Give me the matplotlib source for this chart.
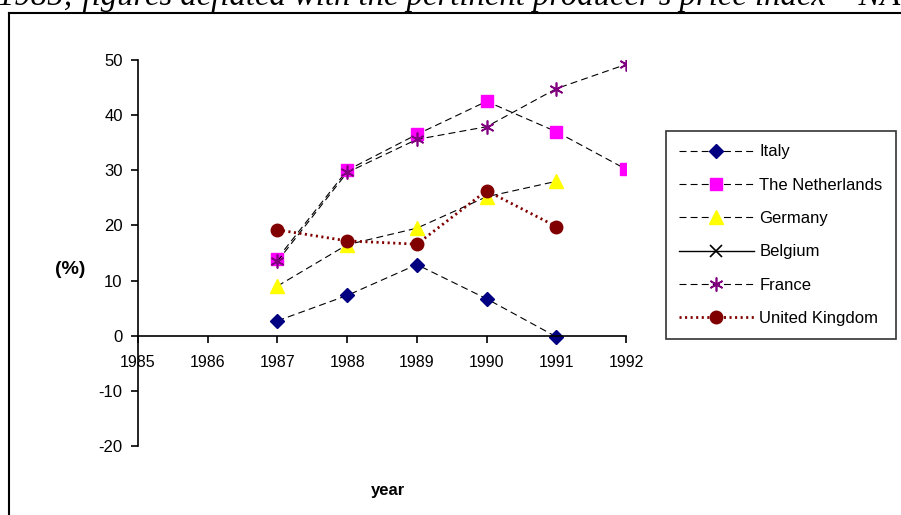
import numpy as np
import matplotlib
matplotlib.use('Agg')
import matplotlib.pyplot as plt
from matplotlib.lines import Line2D

plt.rcParams['font.family'] = ['Liberation Sans', 'DejaVu Sans']
plt.rcParams['lines.scale_dashes'] = False
plt.rcParams['axes.unicode_minus'] = False

# 数据
years = [1987, 1988, 1989, 1990, 1991, 1992]
italy = [2.7, 7.3, 12.9, 6.7, -0.2, np.nan]
netherlands = [14.0, 30.0, 36.5, 42.5, 37.0, 30.2]
germany = [9.0, 16.5, 19.5, 25.2, 28.0, np.nan]
belgium = [np.nan, np.nan, np.nan, np.nan, np.nan, np.nan]
france = [13.5, 29.6, 35.6, 37.9, 44.8, 49.2]
uk = [19.2, 17.2, 16.6, 26.3, 19.8, np.nan]

x_ticks = [1985, 1986, 1987, 1988, 1989, 1990, 1991, 1992]
y_ticks = [-20, -10, 0, 10, 20, 30, 40, 50]

W, H = 901, 515
fig = plt.figure(figsize=(W / 100, H / 100), dpi=100)
ax = fig.add_axes([138 / W, 1 - 446 / H, (626 - 138) / W, (446 - 60) / H])

dash = (5, 3)
ax.plot(years, italy, color='black', lw=0.8, dashes=dash,
        marker='D', ms=7, mfc='#000080', mec='#000080', label='Italy')
ax.plot(years, netherlands, color='black', lw=0.8, dashes=dash,
        marker='s', ms=9, mfc='#FF00FF', mec='#FF00FF', label='The Netherlands')
ax.plot(years, germany, color='black', lw=0.8, dashes=dash,
        marker='^', ms=10, mfc='#FFFF00', mec='#FFFF00', label='Germany')
ax.plot(years, belgium, color='black', lw=1.0, ls='-',
        marker='x', ms=9, mec='black', mew=1.2, label='Belgium')
ax.plot(years, france, color='black', lw=0.8, dashes=dash,
        marker=(6, 2, 0), ms=10, mec='#800080', mew=1.2, label='France')
ax.plot(years, uk, color='#800000', lw=2.0, dashes=(1.5, 2.5),
        marker='o', ms=9, mfc='#800000', mec='#800000', label='United Kingdom')

ax.set_xlim(1985, 1992)
ax.set_ylim(-20, 50)
ax.set_xticks(x_ticks)
ax.set_yticks(y_ticks)
ax.spines['top'].set_visible(False)
ax.spines['right'].set_visible(False)
ax.spines['bottom'].set_position(('data', 0))
for s in ('left', 'bottom'):
    ax.spines[s].set_linewidth(1.2)
ax.tick_params(axis='both', direction='out', length=5, width=1.2)
ax.tick_params(axis='x', pad=9, labelsize=11.5)
ax.tick_params(axis='y', pad=6, labelsize=12)

fig.text(70 / W, 1 - 270 / H, '(%)', fontsize=14, fontweight='bold',
         ha='center', va='center')
fig.text(388 / W, 1 - 490 / H, 'year', fontsize=12, fontweight='bold',
         ha='center', va='center')

leg = ax.legend(loc='upper left', bbox_to_anchor=(666 / W, 1 - 131 / H),
                bbox_transform=fig.transFigure, frameon=True, fancybox=False,
                edgecolor='black', fontsize=12, numpoints=1, handlelength=4.45,
                handletextpad=0.35, labelspacing=1.1, borderpad=0.8,
                borderaxespad=0)
leg.get_frame().set_linewidth(1.2)

# 页面边框和截断的标题
fig.add_artist(Line2D([9 / W, 9 / W], [0, 1 - 13 / H], color='black', lw=1.5,
                      transform=fig.transFigure))
fig.add_artist(Line2D([9 / W, 1], [1 - 13 / H, 1 - 13 / H], color='black', lw=1.5,
                      transform=fig.transFigure))
fig.text(-2 / W, 1 - 5 / H,
         "1985; figures deflated with the pertinent producer's price index \u2013 NACE",
         family='Liberation Serif', style='italic', fontsize=23.5,
         ha='left', va='baseline')

fig.savefig('out.png', dpi=100)
